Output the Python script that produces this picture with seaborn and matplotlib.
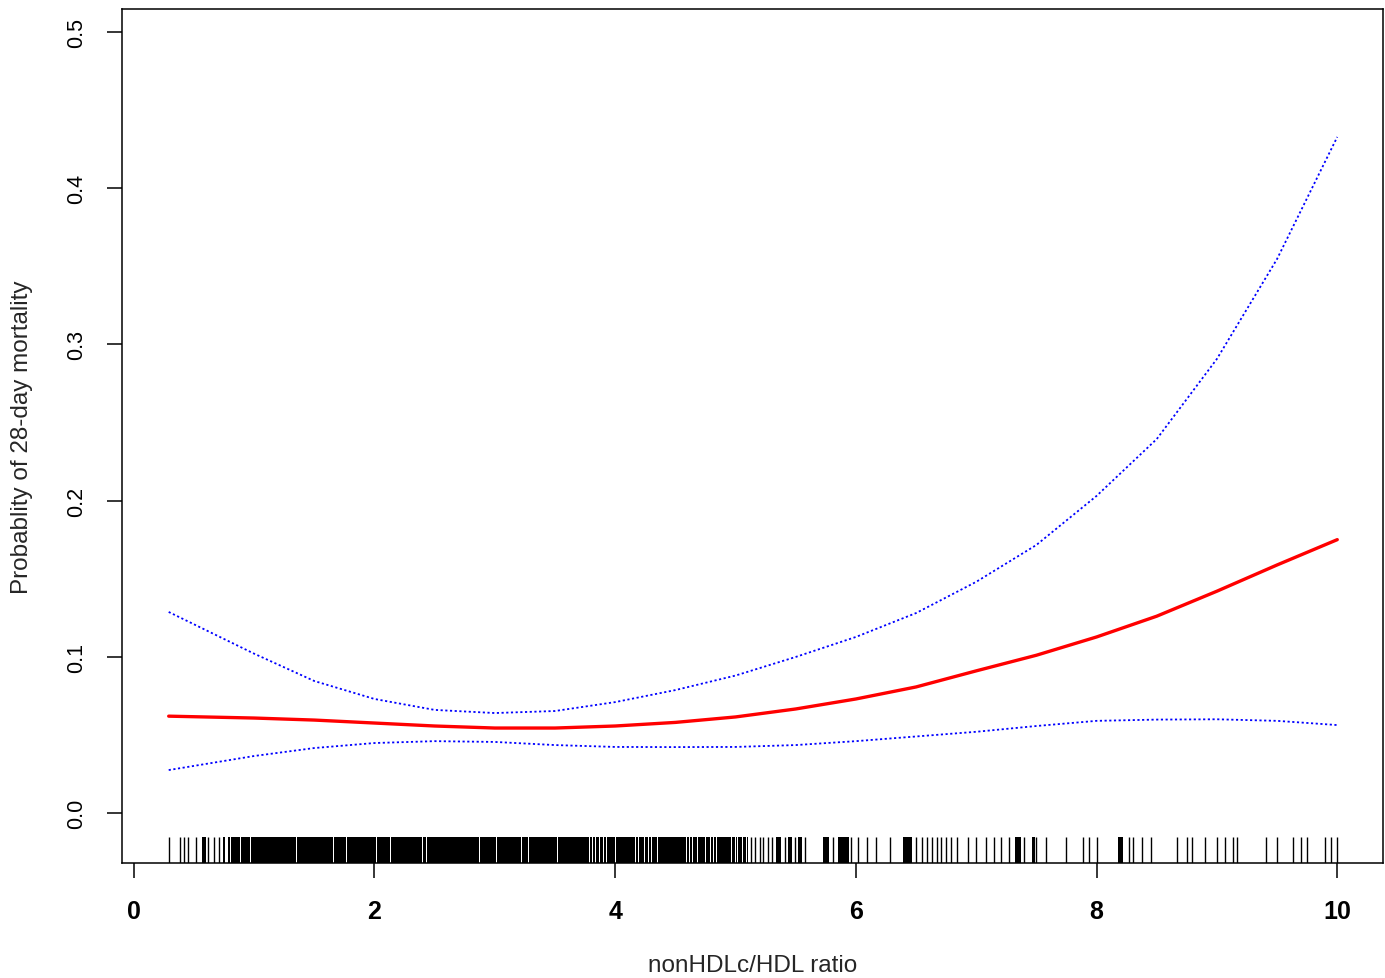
import matplotlib
matplotlib.use("Agg")
import matplotlib.pyplot as plt
import seaborn as sns
import pandas as pd

# curve values
x_vals = [0.29, 1.0, 1.5, 2.0, 2.5, 3.0, 3.5, 4.0, 4.5, 5.0, 5.5, 6.0, 6.5,
          7.0, 7.5, 8.0, 8.5, 9.0, 9.5, 10.0]
fit = [0.062, 0.0608, 0.0595, 0.0576, 0.0557, 0.0544, 0.0544, 0.0557, 0.058,
       0.0615, 0.0666, 0.073, 0.0807, 0.091, 0.101, 0.1127, 0.126, 0.142,
       0.1588, 0.175]
upper = [0.1287, 0.102, 0.0845, 0.073, 0.066, 0.064, 0.0653, 0.071, 0.0787,
         0.088, 0.0999, 0.1127, 0.128, 0.148, 0.1716, 0.203, 0.2394, 0.2907,
         0.3547, 0.4328]
lower = [0.0275, 0.0365, 0.0416, 0.0448, 0.046, 0.0455, 0.0435, 0.0423, 0.0422,
         0.0423, 0.0435, 0.046, 0.049, 0.052, 0.0557, 0.059, 0.0598, 0.060,
         0.059, 0.0563]

# rug: single observations
rug_single = [0.29, 0.38, 0.42, 0.45, 0.52, 0.62, 0.67, 0.71,
              5.13, 5.16, 5.20, 5.23, 5.27, 5.30, 5.41, 5.49, 5.58, 5.81, 5.96,
              6.02, 6.09, 6.17, 6.28, 6.50, 6.55, 6.59, 6.63, 6.67, 6.71, 6.75,
              6.79, 6.84, 6.93, 7.00, 7.08, 7.15, 7.21, 7.27, 7.40, 7.50, 7.58,
              7.75, 7.89, 7.94, 8.00, 8.27, 8.30, 8.38, 8.45, 8.67, 8.75, 8.79,
              8.90, 9.00, 9.07, 9.13, 9.17, 9.41, 9.50, 9.63, 9.70, 9.75, 9.90,
              9.95, 10.0]
# rug: runs of overlapping ticks (solid black)
rug_runs = [(0.57, 0.60), (0.74, 0.76), (5.34, 5.38), (5.44, 5.47), (5.52, 5.55),
            (5.73, 5.78), (5.85, 5.94), (6.39, 6.47), (7.32, 7.37), (7.46, 7.49),
            (8.18, 8.22)]
# dense part of the rug and the thin gaps inside it
dense_span = (0.78, 5.10)
dense_gaps = [0.80, 0.89, 0.97, 1.35, 1.66, 1.77, 2.02, 2.13, 2.40, 2.43, 2.87,
              3.01, 3.22, 3.28, 3.52, 3.79, 3.81, 3.84, 3.87, 3.90, 3.93, 4.00,
              4.17, 4.19, 4.24, 4.28, 4.30, 4.35, 4.59, 4.62, 4.64, 4.68, 4.75,
              4.79, 4.82, 4.84, 4.97, 5.00, 5.02, 5.06, 5.09]

x_ticks = [0, 2, 4, 6, 8, 10]
y_ticks = [0.0, 0.1, 0.2, 0.3, 0.4, 0.5]

sns.set_style("ticks")
plt.rcParams["font.family"] = ["Liberation Sans", "DejaVu Sans"]

df = pd.DataFrame({"x": x_vals, "fit": fit, "upper": upper, "lower": lower})

fig = plt.figure(figsize=(13.85, 9.79), dpi=100)
ax = fig.add_axes([122 / 1385, 1 - 864 / 979, 1261 / 1385, 854 / 979])

sns.lineplot(data=df, x="x", y="fit", ax=ax, color="#FF0000", lw=2.4,
             estimator=None, sort=False)
for col in ["upper", "lower"]:
    sns.lineplot(data=df, x="x", y=col, ax=ax, color="#0000FF", lw=1.3,
                 estimator=None, sort=False, linestyle=(0, (1.2, 1.4)))

# rug
sns.rugplot(x=rug_single, ax=ax, height=0.03, color="black", lw=1.1, expand_margins=False)
for a, b in rug_runs:
    ax.axvspan(a, b, ymin=0, ymax=0.03, color="black", lw=0)
edges = [dense_span[0]] + dense_gaps + [dense_span[1]]
gw = 0.004
for i in range(len(edges) - 1):
    a = edges[i] + (gw if i > 0 else 0)
    b = edges[i + 1] - (gw if i + 1 < len(edges) - 1 else 0)
    if b > a:
        ax.axvspan(a, b, ymin=0, ymax=0.03, color="black", lw=0)

ax.set_xlim(-0.098, 10.38)
ax.set_ylim(-0.032, 0.5147)
ax.set_xticks(x_ticks)
ax.set_xticklabels([str(t) for t in x_ticks], fontsize=18, fontweight="bold")
ax.set_yticks(y_ticks)
ax.set_yticklabels([f"{t:.1f}" for t in y_ticks], fontsize=15.5, rotation=90,
                   va="center")
ax.tick_params(axis="both", length=11, width=1.1, colors="black")
ax.tick_params(axis="x", pad=15)
ax.tick_params(axis="y", pad=14)
for s in ax.spines.values():
    s.set_visible(True)
    s.set_linewidth(1.1)
    s.set_color("black")

ax.set_xlabel("nonHDLc/HDL ratio", fontsize=17.5, labelpad=22)
ax.set_ylabel("Probablity of 28-day mortality", fontsize=17.5, labelpad=24)

fig.savefig("out.png", dpi=100)
